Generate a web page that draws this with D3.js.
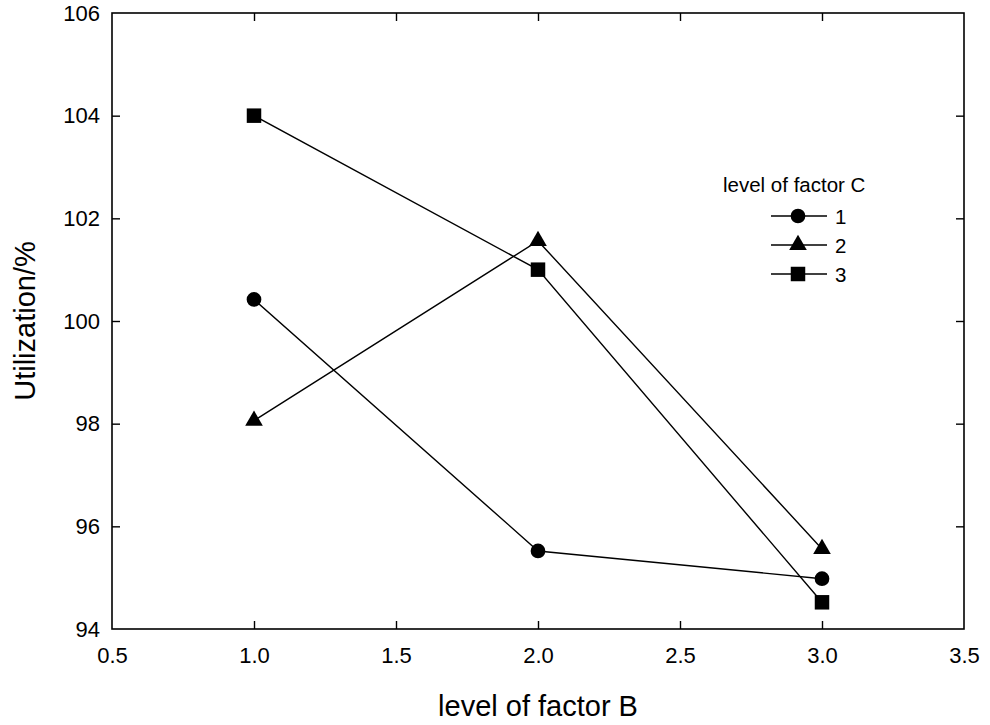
<!DOCTYPE html>
<html>
<head>
<meta charset="utf-8">
<script src="https://cdn.jsdelivr.net/npm/d3@7"></script>
<style>
  body { margin: 0; background: #fff; }
  text { font-family: "Liberation Sans", Arial, sans-serif; fill: #000; }
</style>
</head>
<body>
<div id="chart"></div>
<script>
// Dados
const levelsB = [1, 2, 3];
const seriesNames = ["1", "2", "3"];
const factorC1 = [100.42, 95.52, 94.98];
const factorC2 = [98.06, 101.56, 95.56];
const factorC3 = [104.0, 101.0, 94.52];
const xTicks = [0.5, 1.0, 1.5, 2.0, 2.5, 3.0, 3.5];
const yTicks = [94, 96, 98, 100, 102, 104, 106];

const width = 990;
const height = 725;
const margin = { top: 13, right: 26, bottom: 96, left: 112 };
const effectiveWidth = width - margin.left - margin.right;
const effectiveHeight = height - margin.top - margin.bottom;

const svg = d3.select("#chart")
    .append("svg")
    .attr("width", width)
    .attr("height", height)
    .append("g")
    .attr("transform", `translate(${margin.left},${margin.top})`);

const xScale = d3.scaleLinear().domain([0.5, 3.5]).range([0, effectiveWidth]);
const yScale = d3.scaleLinear().domain([94, 106]).range([effectiveHeight, 0]);

const tick = 8;

// Eixos (ticks para dentro)
svg.append("g")
    .attr("transform", `translate(0,${effectiveHeight})`)
    .call(d3.axisBottom(xScale).tickValues(xTicks).tickFormat(d3.format(".1f"))
        .tickSizeInner(-tick).tickSizeOuter(0).tickPadding(18))
    .call(g => g.selectAll(".tick line").filter(d => d === 0.5 || d === 3.5).remove());
svg.append("g")
    .call(d3.axisTop(xScale).tickValues(xTicks.filter(d => d > 0.5 && d < 3.5))
        .tickSizeInner(-tick).tickSizeOuter(0).tickFormat(""));
svg.append("g")
    .call(d3.axisLeft(yScale).tickValues(yTicks)
        .tickSizeInner(-tick).tickSizeOuter(0).tickPadding(12))
    .call(g => g.selectAll(".tick line").filter(d => d === 94 || d === 106).remove());
svg.append("g")
    .attr("transform", `translate(${effectiveWidth},0)`)
    .call(d3.axisRight(yScale).tickValues(yTicks.filter(d => d > 94 && d < 106))
        .tickSizeInner(-tick).tickSizeOuter(0).tickFormat(""));

svg.selectAll(".domain").remove();
svg.selectAll(".tick line").attr("stroke", "#000").attr("stroke-width", 1.4);
svg.selectAll(".tick text").attr("font-size", 22).attr("font-family", "Liberation Sans, Arial, sans-serif");

// Moldura
svg.append("rect")
    .attr("width", effectiveWidth)
    .attr("height", effectiveHeight)
    .attr("fill", "none")
    .attr("stroke", "#000")
    .attr("stroke-width", 1.6);

// Títulos dos eixos
svg.append("text")
    .attr("x", effectiveWidth / 2)
    .attr("y", effectiveHeight + 87)
    .attr("text-anchor", "middle")
    .attr("font-size", 29)
    .text("level of factor B");
svg.append("text")
    .attr("transform", `translate(${-77},${effectiveHeight / 2}) rotate(-90)`)
    .attr("text-anchor", "middle")
    .attr("font-size", 29)
    .text("Utilization/%");

// Símbolos
const symbols = [d3.symbolCircle, d3.symbolTriangle, d3.symbolSquare];
const sizes = [170, 135, 210];
const allSeries = [factorC1, factorC2, factorC3];

const line = d3.line()
    .x((d, i) => xScale(levelsB[i]))
    .y(d => yScale(d));

allSeries.forEach((vals, k) => {
    svg.append("path")
        .datum(vals)
        .attr("fill", "none")
        .attr("stroke", "#000")
        .attr("stroke-width", 1.4)
        .attr("d", line);
    svg.selectAll(".pt" + k)
        .data(vals)
        .enter()
        .append("path")
        .attr("class", "pt" + k)
        .attr("transform", (d, i) => `translate(${xScale(levelsB[i])},${yScale(d)})`)
        .attr("d", d3.symbol().type(symbols[k]).size(sizes[k]))
        .attr("fill", "#000");
});

// Legenda
const legend = svg.append("g").attr("transform", `translate(${723 - margin.left},${192 - margin.top})`);
legend.append("text")
    .attr("x", 0)
    .attr("y", 0)
    .attr("font-size", 20.5)
    .text("level of factor C");
seriesNames.forEach((name, k) => {
    const y = 24 + k * 29;
    legend.append("line")
        .attr("x1", 48).attr("x2", 104)
        .attr("y1", y).attr("y2", y)
        .attr("stroke", "#000").attr("stroke-width", 1.4);
    legend.append("path")
        .attr("transform", `translate(75,${y})`)
        .attr("d", d3.symbol().type(symbols[k]).size(sizes[k]))
        .attr("fill", "#000");
    legend.append("text")
        .attr("x", 112)
        .attr("y", y + 7.5)
        .attr("font-size", 20.5)
        .text(name);
});
</script>
</body>
</html>
